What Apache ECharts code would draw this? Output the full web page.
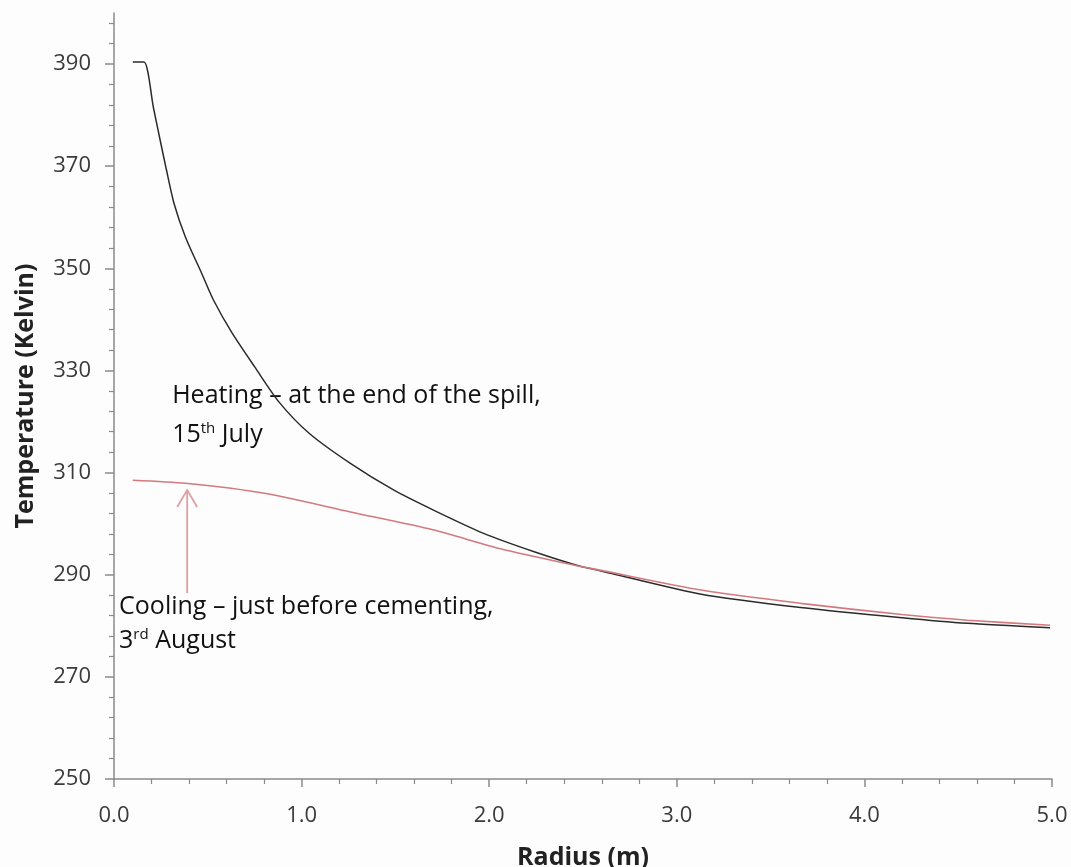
<!DOCTYPE html>
<html>
<head>
<meta charset="utf-8">
<script src="https://cdn.jsdelivr.net/npm/echarts@6/dist/echarts.min.js"></script>
<style>
  html, body { margin: 0; padding: 0; background: #fdfdfd; }
  #chart { width: 1071px; height: 867px; }
</style>
</head>
<body>
<div id="chart"></div>
<script>
// == Data ====================================================================

// Heating – at the end of the spill, 15th July  [radius m, temperature K]
const heating = [
  [0.10, 390.4], [0.16, 390.4], [0.21, 381.5], [0.25, 374.4], [0.28, 369.2],
  [0.32, 362.7], [0.38, 356.2], [0.47, 348.8], [0.53, 343.8], [0.63, 337.3],
  [0.75, 330.7], [0.88, 323.8], [1.04, 317.7], [1.26, 311.8], [1.49, 306.6],
  [1.70, 302.7], [1.97, 298.1], [2.24, 294.5], [2.49, 291.6], [2.59, 290.8],
  [3.13, 286.2], [3.66, 283.6], [4.20, 281.6], [4.55, 280.5], [4.99, 279.6]
]

// Cooling – just before cementing, 3rd August
const cooling = [
  [0.10, 308.5], [0.38, 307.9], [0.81, 305.9], [1.26, 302.3], [1.70, 298.8],
  [2.06, 295.1], [2.49, 291.6], [2.59, 290.9], [3.13, 287.0], [3.66, 284.4],
  [4.20, 282.2], [4.55, 281.1], [4.99, 280.1]
]

const yMajor = [250, 270, 290, 310, 330, 350, 370, 390]
const yMinor = []
for (let v = 254; v <= 398; v += 4) {
  if ((v - 250) % 20 !== 0) yMinor.push(v)
}

const FONT = '"Open Sans", "Noto Sans", sans-serif'
const RED = '#d37a7e'
const AXIS = '#8a8a8a'

const chart = echarts.init(document.getElementById('chart'))

chart.setOption({
  backgroundColor: '#fdfdfd',
  animation: false,
  grid: { left: 114, right: 19, top: 13, bottom: 88, outerBoundsMode: 'none', containLabel: false },
  xAxis: {
    type: 'value',
    min: 0,
    max: 5,
    interval: 1,
    name: 'Radius (m)',
    nameLocation: 'middle',
    nameGap: 66,
    nameTextStyle: { fontFamily: FONT, fontSize: 25, fontWeight: 'bold', color: '#222' },
    axisLine: { lineStyle: { color: AXIS, width: 1.5 } },
    axisTick: { length: 8, lineStyle: { color: AXIS, width: 1.5 } },
    minorTick: { show: true, splitNumber: 5, length: 5, lineStyle: { color: AXIS, width: 1.2 } },
    axisLabel: {
      margin: 26,
      fontFamily: FONT,
      fontSize: 22,
      color: '#3a3a3a',
      formatter: v => v.toFixed(1)
    },
    splitLine: { show: false }
  },
  yAxis: [
    {
      type: 'value',
      min: 250,
      max: 400,
      name: 'Temperature (Kelvin)',
      nameLocation: 'middle',
      nameGap: 76,
      nameTextStyle: { fontFamily: FONT, fontSize: 25, fontWeight: 'bold', color: '#222' },
      axisLine: { show: true, lineStyle: { color: AXIS, width: 1.5 } },
      axisTick: { show: true, length: 9, customValues: yMajor, lineStyle: { color: AXIS, width: 1.5 } },
      axisLabel: { margin: 23, fontFamily: FONT, fontSize: 22, color: '#3a3a3a', customValues: yMajor },
      splitLine: { show: false }
    },
    {
      type: 'value',
      min: 250,
      max: 400,
      position: 'left',
      axisLine: { show: false },
      axisTick: { show: true, length: 5, customValues: yMinor, lineStyle: { color: AXIS, width: 1.2 } },
      axisLabel: { show: false },
      splitLine: { show: false }
    }
  ],
  series: [
    {
      name: 'Heating',
      type: 'line',
      data: heating,
      showSymbol: false,
      smooth: 0.25,
      lineStyle: { color: '#2b2b2b', width: 1.5 }
    },
    {
      name: 'Cooling',
      type: 'line',
      data: cooling,
      showSymbol: false,
      smooth: 0.25,
      lineStyle: { color: RED, width: 1.6 }
    }
  ]
})

// == Annotations (placed in data space) =====================================

const px = (x, y) => chart.convertToPixel({ xAxisIndex: 0, yAxisIndex: 0 }, [x, y])

const note = (text, x, y) => {
  const p = px(x, y)
  return {
    type: 'text',
    x: p[0],
    y: p[1],
    style: {
      text,
      fill: '#111',
      fontFamily: FONT,
      fontSize: 25,
      verticalAlign: 'middle',
      rich: {
        sup: { fontFamily: FONT, fontSize: 15, verticalAlign: 'top', lineHeight: 28, fill: '#111' }
      }
    }
  }
}

const tip = px(0.39, 306.6)
const tail = px(0.39, 286.4)

chart.setOption({
  graphic: [
    note('Heating – at the end of the spill,', 0.31, 325.0),
    note('15{sup|th} July', 0.31, 317.4),
    note('Cooling – just before cementing,', 0.027, 283.7),
    note('3{sup|rd} August', 0.027, 277.0),
    {
      type: 'polyline',
      shape: { points: [[tail[0], tail[1]], [tip[0], tip[1]]] },
      style: { stroke: '#e0a0a2', lineWidth: 1.8, fill: null }
    },
    {
      type: 'polyline',
      shape: { points: [[tip[0] - 10, tip[1] + 17], [tip[0], tip[1]], [tip[0] + 10, tip[1] + 17]] },
      style: { stroke: '#e0a0a2', lineWidth: 1.8, fill: null }
    }
  ]
})
</script>
</body>
</html>
